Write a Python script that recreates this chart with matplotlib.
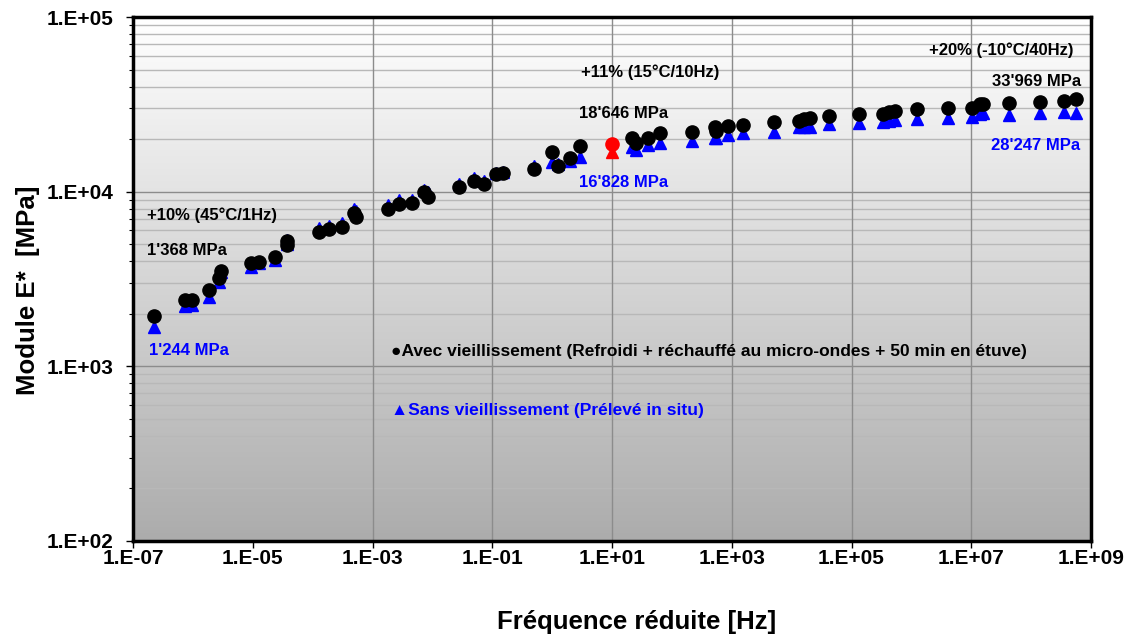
import numpy as np
import matplotlib
matplotlib.use('Agg')
import matplotlib.pyplot as plt
from matplotlib.ticker import FixedLocator, FuncFormatter, NullFormatter

plt.rcParams['font.family'] = ['Liberation Sans', 'DejaVu Sans']
plt.rcParams['font.weight'] = 'bold'

# frequence reduite [Hz]
freq = [2.24e-7, 7.36e-7, 9.6e-7, 1.85e-6, 2.71e-6, 2.93e-6, 9.3e-6, 1.26e-5, 2.33e-5,
        3.69e-5, 3.69e-5, 1.26e-4, 1.85e-4, 3.04e-4, 5.0e-4, 5.4e-4, 1.85e-3, 2.82e-3,
        4.64e-3, 7.36e-3, 8.6e-3, 0.0282, 0.0501, 0.0736, 0.117, 0.153, 0.50, 1.0, 1.26,
        2.0, 2.93, 21.5, 25.1, 39.8, 63.0, 215.0, 521.0, 540.0, 858.0, 1524.0, 5012.0,
        1.31e4, 1.585e4, 2.0e4, 4.14e4, 1.36e5, 3.41e5, 4.3e5, 5.4e5, 1.26e6, 4.14e6,
        1.04e7, 1.41e7, 1.58e7, 4.3e7, 1.41e8, 3.55e8, 5.6e8]
# module E* avec vieillissement [MPa]
e_avec = [1945, 2399, 2399, 2737, 3206, 3516, 3906, 3963, 4230, 5224, 4955, 5878, 6116,
          6285, 7551, 7165, 7962, 8511, 8613, 9960, 9333, 10640, 11510, 11060, 12620,
          12790, 13490, 16870, 14030, 15590, 18270, 20270, 19000, 20270, 21680, 21980,
          23440, 22250, 23770, 24110, 25070, 25420, 26080, 26420, 27090, 27870, 27870,
          28600, 28970, 29740, 30120, 30120, 31770, 31770, 32200, 32600, 33040, 33969]
# module E* sans vieillissement [MPa]
e_sans = [1680, 2218, 2244, 2496, 3041, 3467, 3707, 3909, 4063, 5296, 5023, 6197, 6367,
          6622, 7961, 7757, 8394, 8965, 8965, 10230, 9960, 11070, 11980, 11510, 12790,
          12960, 14030, 14790, 14410, 14990, 15810, 18030, 17330, 18480, 19000, 19490,
          20270, 20270, 21120, 21680, 21980, 23440, 23440, 23440, 24410, 24730, 25070,
          25420, 25720, 26080, 26420, 26790, 27870, 28190, 27470, 28190, 28590, 28247]
# point de reference 15 C / 10 Hz
ref_freq = [10.0]
ref_avec = [18646]
ref_sans = [16828]

fig = plt.figure(figsize=(11.35, 6.38), dpi=100)
ax = fig.add_axes([133/1135, 1-541/638, (1091-133)/1135, (541-17)/638])
ax.set_xscale('log')
ax.set_yscale('log')
ax.set_xlim(1e-7, 1e9)
ax.set_ylim(1e2, 1e5)

# fond degrade blanc -> gris
grad = np.linspace(1.0, 0.0, 256).reshape(-1, 1)
ax.imshow(grad, extent=[0, 1, 0, 1], transform=ax.transAxes, aspect='auto',
          cmap=matplotlib.colors.LinearSegmentedColormap.from_list('g', ['#acacac', '#ffffff']),
          zorder=0)

# grilles
for k in [2, 3, 4]:
    for m in range(2, 10):
        ax.axhline(m * 10**k, color='#b8b8b8', lw=1.0, zorder=1)
for k in [3, 4]:
    ax.axhline(10**k, color='#8c8c8c', lw=1.0, zorder=1)
for k in [-3, -1, 1, 3, 5, 7]:
    ax.axvline(10.0**k, color='#8c8c8c', lw=1.0, zorder=1)

ax.plot(freq, e_sans, linestyle='none', marker='^', ms=9, color='#0000ff', zorder=3)
ax.plot(freq, e_avec, linestyle='none', marker='o', ms=9.5, color='black', zorder=4)
ax.plot(ref_freq, ref_sans, linestyle='none', marker='^', ms=9, color='#ff0000', zorder=5)
ax.plot(ref_freq, ref_avec, linestyle='none', marker='o', ms=9.5, color='#ff0000', zorder=6)

ax.xaxis.set_major_locator(FixedLocator([10.0**k for k in range(-7, 10, 2)]))
ax.xaxis.set_minor_locator(FixedLocator([]))
ax.yaxis.set_major_locator(FixedLocator([10.0**k for k in range(2, 6)]))
ax.yaxis.set_minor_locator(FixedLocator([m * 10.0**k for k in [2, 3, 4] for m in range(2, 10)]))
ax.yaxis.set_minor_formatter(NullFormatter())
fmt = FuncFormatter(lambda v, p: '1.E%+03d' % int(round(np.log10(v))))
ax.xaxis.set_major_formatter(fmt)
ax.yaxis.set_major_formatter(fmt)
ax.tick_params(axis='both', which='major', labelsize=15, direction='out', length=5, width=1)
ax.tick_params(axis='x', which='major', pad=1)
ax.tick_params(axis='y', which='major', pad=9)
ax.tick_params(axis='y', which='minor', direction='out', length=3, width=0.8)
for s in ax.spines.values():
    s.set_linewidth(2.5)
    s.set_zorder(10)

fig.text(28/1135, 1-290/638, 'Module E*  [MPa]', fontsize=18.5, fontweight='bold',
         rotation=90, ha='center', va='center')
fig.text(637/1135, 1-622/638, 'Fréquence réduite [Hz]', fontsize=18.5, fontweight='bold',
         ha='center', va='center')

tk = dict(fontsize=12, fontweight='bold', va='center')
ax.text(1.7e-7, 7360, '+10% (45°C/1Hz)', color='black', **tk)
ax.text(1.7e-7, 4580, "1'368 MPa", color='black', **tk)
ax.text(1.85e-7, 1225, "1'244 MPa", color='#0000ff', **tk)
ax.text(3.0, 48400, '+11% (15°C/10Hz)', color='black', **tk)
ax.text(2.8, 27870, "18'646 MPa", color='black', **tk)
ax.text(2.8, 11220, "16'828 MPa", color='#0000ff', **tk)
ax.text(5.2e8, 64800, '+20% (-10°C/40Hz)', color='black', ha='right', **tk)
ax.text(6.8e8, 42490, "33'969 MPa", color='black', ha='right', **tk)
ax.text(6.6e8, 18280, "28'247 MPa", color='#0000ff', ha='right', **tk)

ax.text(2.07e-3, 1208, '●Avec vieillissement (Refroidi + réchauffé au micro-ondes + 50 min en étuve)',
        color='black', fontsize=12.5, fontweight='bold', va='center')
ax.text(2.07e-3, 562, '▲Sans vieillissement (Prélevé in situ)',
        color='#0000ff', fontsize=12.5, fontweight='bold', va='center')

fig.savefig('out.png', dpi=100)
